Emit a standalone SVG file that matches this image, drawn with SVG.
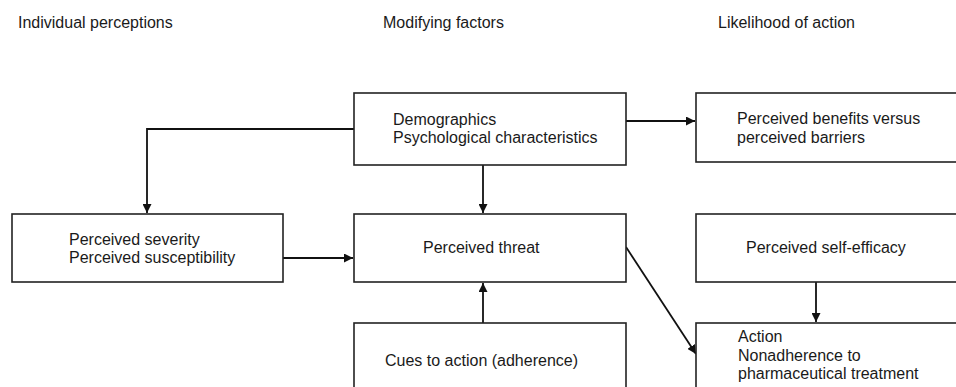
<svg xmlns="http://www.w3.org/2000/svg" width="956" height="387" viewBox="0 0 956 387">
<defs>
<style>
text{font-family:"Liberation Sans",Arial,sans-serif;font-size:16px;fill:#1a1a1a}
.box{fill:#fff;stroke:#222;stroke-width:1.6}
.ln{fill:none;stroke:#111;stroke-width:1.8}
</style>
<marker id="ah" viewBox="0 0 10 10" refX="10" refY="5" markerWidth="9" markerHeight="9" markerUnits="userSpaceOnUse" orient="auto">
<path d="M0,0 L10,5 L0,10 z" fill="#111"/>
</marker>
</defs>
<rect width="956" height="387" fill="#fff"/>
<g id="headers">
<text x="18" y="28">Individual perceptions</text>
<text x="383" y="28">Modifying factors</text>
<text x="718" y="28">Likelihood of action</text>
</g>
<g id="connectors">
<path class="ln" d="M354,129 H147 V213" marker-end="url(#ah)"/>
<path class="ln" d="M626,121 H695" marker-end="url(#ah)"/>
<path class="ln" d="M483,165 V213" marker-end="url(#ah)"/>
<path class="ln" d="M283,258 H353" marker-end="url(#ah)"/>
<path class="ln" d="M483,323 V283" marker-end="url(#ah)"/>
<path class="ln" d="M626,247 L696,354" marker-end="url(#ah)"/>
<path class="ln" d="M816,282 V322" marker-end="url(#ah)"/>
</g>
<g id="demographics">
<rect class="box" x="354" y="93" width="272" height="72"/>
<text x="393" y="125">Demographics</text>
<text x="393" y="143">Psychological characteristics</text>
</g>
<g id="benefits">
<rect class="box" x="696" y="93" width="270" height="69"/>
<text x="737" y="124">Perceived benefits versus</text>
<text x="737" y="143">perceived barriers</text>
</g>
<g id="severity">
<rect class="box" x="12" y="214" width="271" height="68"/>
<text x="69" y="245">Perceived severity</text>
<text x="69" y="263">Perceived susceptibility</text>
</g>
<g id="threat">
<rect class="box" x="354" y="214" width="272" height="68"/>
<text x="423" y="253">Perceived threat</text>
</g>
<g id="selfefficacy">
<rect class="box" x="696" y="214" width="270" height="68"/>
<text x="746" y="253">Perceived self-efficacy</text>
</g>
<g id="cues">
<rect class="box" x="354" y="323" width="272" height="80"/>
<text x="385" y="366">Cues to action (adherence)</text>
</g>
<g id="action">
<rect class="box" x="696" y="323" width="270" height="80"/>
<text x="738" y="342">Action</text>
<text x="738" y="361">Nonadherence to</text>
<text x="738" y="379">pharmaceutical treatment</text>
</g>
</svg>
